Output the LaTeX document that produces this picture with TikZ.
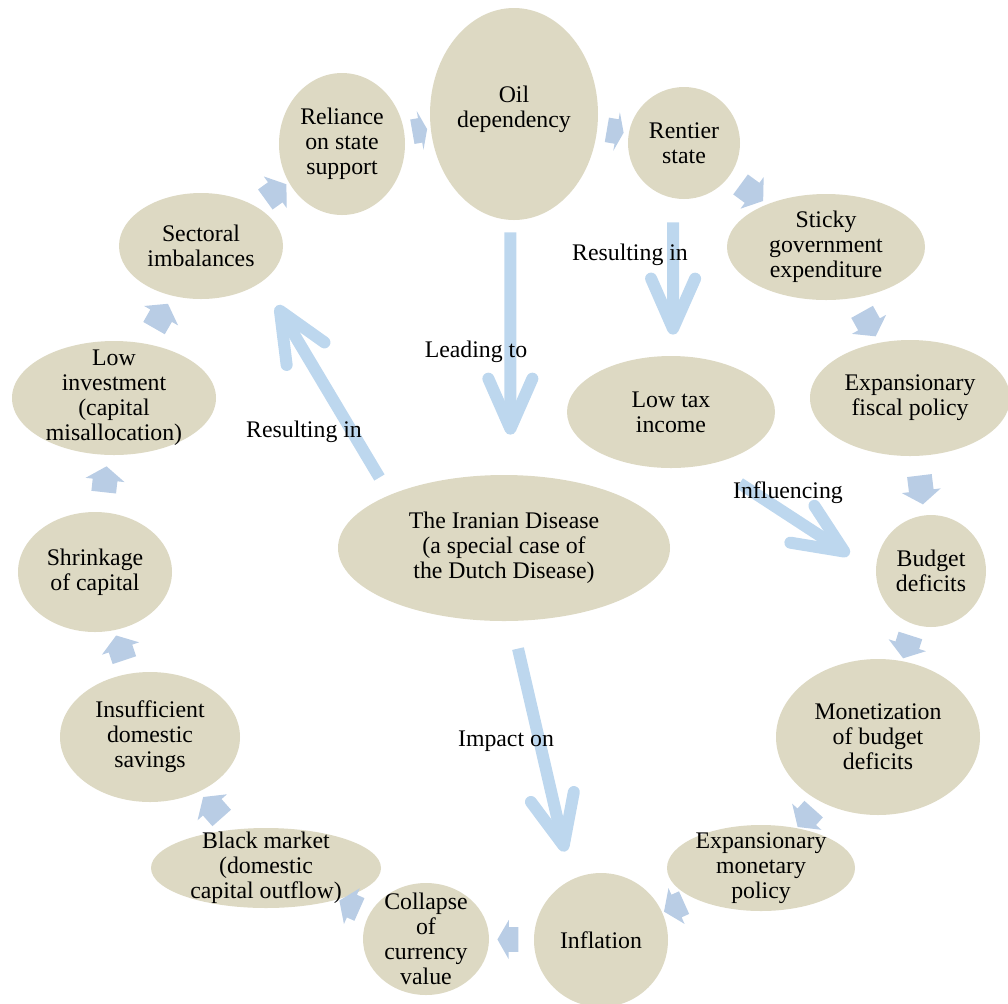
\documentclass[tikz,border=0pt]{standalone}
\usepackage{fontspec}
\setmainfont{Liberation Serif}
\usetikzlibrary{shapes.geometric,shapes.arrows,arrows.meta}
\definecolor{khaki}{HTML}{DDD9C3}
\definecolor{chevblue}{HTML}{B9CDE5}
\definecolor{bigblue}{HTML}{BDD7EE}

\begin{document}
\begin{tikzpicture}[x=0.5pt,y=-0.5pt,line join=round,
  font=\fontsize{11.9}{12.5}\selectfont,
  every label/.style={align=center,inner sep=0pt},
  ell/.style={ellipse,fill=khaki,inner sep=0pt},
  chev/.style={single arrow,fill=chevblue,inner sep=0pt,text height=12pt,text depth=0pt,
    single arrow head extend=3.6pt,sloped,allow upside down},
  bigarrow/.style={draw=bigblue,line width=6pt,line cap=butt,
    -{Straight Barb[length=25pt,width=22pt,round]}}]
\useasboundingbox (0,0) rectangle (1008,1003);
% the ring
\node[ell,minimum width=84pt,minimum height=106pt,label={[yshift=2.2pt]center:Oil\\dependency}] (oil) at (514,114) {};
\node[ell,minimum width=56pt,minimum height=56pt,label=center:{Rentier\\state}] (ren) at (684,143) {};
\node[ell,minimum width=99pt,minimum height=53pt,label=center:{Sticky\\government\\expenditure}] (sticky) at (826,247) {};
\node[ell,minimum width=100pt,minimum height=58pt,label=center:{Expansionary\\fiscal policy}] (fiscal) at (910,398) {};
\node[ell,minimum width=55pt,minimum height=56pt,label=center:{Budget\\deficits}] (budget) at (931,571) {};
\node[ell,minimum width=102pt,minimum height=78pt,label=center:{Monetization\\of budget\\deficits}] (monet) at (878,737) {};
\node[ell,minimum width=94pt,minimum height=43pt,label=center:{Expansionary\\monetary\\policy}] (monpol) at (761,868) {};
\node[ell,minimum width=67pt,minimum height=67pt,label=center:{Inflation}] (infl) at (601,940) {};
\node[ell,minimum width=63pt,minimum height=56pt,label=center:{Collapse\\of\\currency\\value}] (collapse) at (426,939) {};
\node[ell,minimum width=115pt,minimum height=40pt,label=center:{Black market\\(domestic\\capital outflow)}] (black) at (266,868) {};
\node[ell,minimum width=90pt,minimum height=65pt,label=center:{Insufficient\\domestic\\savings}] (insuff) at (150,737) {};
\node[ell,minimum width=77pt,minimum height=60pt,label=center:{Shrinkage\\of capital}] (shrink) at (95,572) {};
\node[ell,minimum width=102pt,minimum height=57pt,label=center:{Low\\investment\\(capital\\misallocation)}] (lowinv) at (114,398) {};
\node[ell,minimum width=82pt,minimum height=53pt,label=center:{Sectoral\\imbalances}] (sect) at (201,246) {};
\node[ell,minimum width=63pt,minimum height=71pt,label=center:{Reliance\\on state\\support}] (rel) at (342,144) {};
% inner nodes
\node[ell,minimum width=104pt,minimum height=56pt,label=center:{Low tax\\income}] (lowtax) at (671,412) {};
\node[ell,minimum width=166pt,minimum height=73pt,label=center:{The Iranian Disease\\(a special case of\\the Dutch Disease)}] (iran) at (504,548) {};
% small arrows round the ring
\foreach \a/\b/\l/\t in {rel/oil/7.5/140,oil/ren/8.5/140,ren/sticky/14/110,sticky/fiscal/14/110,
  fiscal/budget/14.5/110,budget/monet/12/110,monet/monpol/12/110,monpol/infl/11/110,
  infl/collapse/10.5/120,collapse/black/11/110,black/insuff/14/110,insuff/shrink/13/110,
  shrink/lowinv/13/110,lowinv/sect/14/110,sect/rel/13/110}
  \path (\a) -- node[chev,minimum height=\l pt,single arrow tip angle=\t]{} (\b);
% big arrows
\draw[bigarrow,shorten <=6pt,shorten >=20pt] (oil.268) -- (iran.85);
\draw[bigarrow,shorten <=12pt,shorten >=10.5pt] (ren.259) -- (lowtax.88);
\draw[bigarrow,shorten <=10pt,shorten >=14pt] (iran.155) -- (sect.330);
\draw[bigarrow,shorten <=17.5pt,shorten >=15.7pt] (lowtax.307) -- (budget.181);
\draw[bigarrow,shorten <=14pt,shorten >=14.3pt] (iran.276) -- (infl.116);
\node (t1) at (630,255) {Resulting in};
\node (t2) at (476,352) {Leading to};
\node (t3) at (304,432) {Resulting in};
\node (t4) at (788,493) {Influencing};
\node (t5) at (506,741) {Impact on};
\end{tikzpicture}
\end{document}
